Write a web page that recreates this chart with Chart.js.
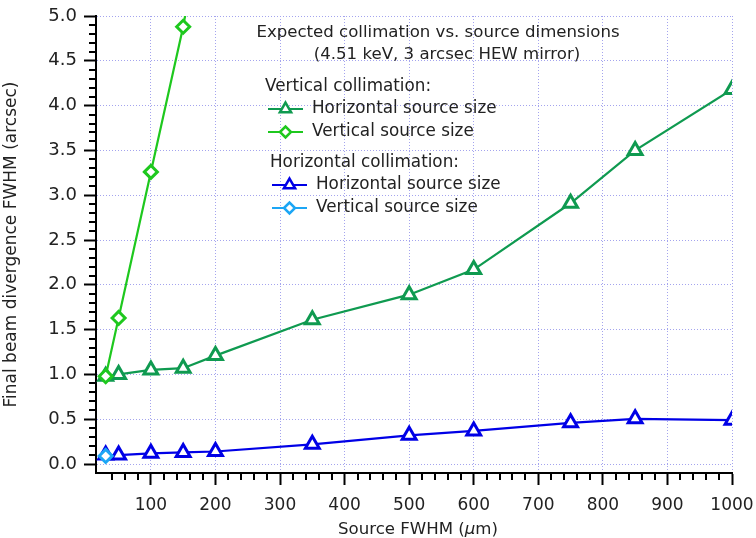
<!DOCTYPE html>
<html>
<head>
<meta charset="utf-8">
<title>Expected collimation vs. source dimensions</title>
<script src="https://cdn.jsdelivr.net/npm/chart.js@4.4.1/dist/chart.umd.min.js"></script>
<style>
  html, body { margin: 0; padding: 0; background: #fff; }
  canvas { display: block; }
</style>
</head>
<body>
<canvas id="divChart" width="756" height="538"></canvas>
<script>
// source FWHM (um) where the divergence was computed
var sourceFwhm = [30, 50, 100, 150, 200, 350, 500, 600, 750, 850, 1000];

// vertical collimation
var vertCollHorizSrc = [0.98, 1.00, 1.05, 1.07, 1.21, 1.61, 1.89, 2.17, 2.91, 3.50, 4.18];
var vertCollVertSrcX = [30, 50, 100, 150, 200];
var vertCollVertSrc = [0.98, 1.63, 3.26, 4.88, 6.9];

// horizontal collimation
var horizCollHorizSrc = [0.10, 0.10, 0.12, 0.13, 0.14, 0.22, 0.32, 0.37, 0.46, 0.505, 0.49];
var horizCollVertSrcX = [30];
var horizCollVertSrc = [0.09];

// labelled ticks
var xMajorTicks = [100, 200, 300, 400, 500, 600, 700, 800, 900, 1000];
var yMajorTicks = [0.0, 0.5, 1.0, 1.5, 2.0, 2.5, 3.0, 3.5, 4.0, 4.5, 5.0];

var FONT = '"DejaVu Sans", Verdana, sans-serif';
var TXT = '#222';
var GRID = '#a4a4ee';

var colors = {
    vcHs: '#0f9a50',
    vcVs: '#1ec81e',
    hcHs: '#0000e6',
    hcVs: '#1ca6f5'
};

function toPoints(xs, ys) {
    var pts = [];
    for (var i = 0; i < ys.length; i++) {
        pts.push({x: xs[i], y: ys[i]});
    }
    return pts;
}

function makeDataSet(label, xs, ys, color, style, order) {
    var tri = style === 'triangle';
    return {
        label: label,
        data: toPoints(xs, ys),
        borderColor: color,
        backgroundColor: '#fff',
        borderWidth: 2.2,
        pointStyle: style,
        pointRadius: tri ? 8 : 6.5,
        pointBorderWidth: 3,
        pointBackgroundColor: '#fff',
        pointBorderColor: color,
        tension: 0,
        order: order
    };
}

// little marker shapes for the legend block
function legendMarker(ctx, style, x, y, r, color) {
    ctx.save();
    ctx.beginPath();
    if (style === 'triangle') {
        ctx.moveTo(x, y - r);
        ctx.lineTo(x + r * Math.sin(Math.PI / 3), y + r / 2);
        ctx.lineTo(x - r * Math.sin(Math.PI / 3), y + r / 2);
    } else {
        ctx.moveTo(x - r, y);
        ctx.lineTo(x, y - r);
        ctx.lineTo(x + r, y);
        ctx.lineTo(x, y + r);
    }
    ctx.closePath();
    ctx.fillStyle = '#fff';
    ctx.fill();
    ctx.lineWidth = 2.5;
    ctx.strokeStyle = color;
    ctx.stroke();
    ctx.restore();
}

function legendRow(ctx, x1, x2, y, style, color, text) {
    ctx.save();
    ctx.strokeStyle = color;
    ctx.lineWidth = 2;
    ctx.beginPath();
    ctx.moveTo(x1, y);
    ctx.lineTo(x2, y);
    ctx.stroke();
    ctx.restore();
    legendMarker(ctx, style, (x1 + x2) / 2, y, style === 'triangle' ? 6.5 : 5.5, color);
    ctx.fillText(text, x2 + 9, y);
}

// minor ticks, notes, legend and x axis title
var decorations = {
    id: 'decorations',
    beforeDatasetsDraw: function(chart) {
        var ctx = chart.ctx;
        var xs = chart.scales.x, ys = chart.scales.y;
        var area = chart.chartArea;
        ctx.save();
        ctx.strokeStyle = '#000';
        ctx.lineWidth = 2;
        ctx.beginPath();
        for (var v = 40; v < 1000; v += 20) {
            if (v % 100 === 0) continue;
            var px = Math.round(xs.getPixelForValue(v));
            ctx.moveTo(px, area.bottom);
            ctx.lineTo(px, area.bottom + 7);
        }
        for (var k = 1; k < 50; k++) {
            if (k % 5 === 0) continue;
            var py = Math.round(ys.getPixelForValue(k / 10));
            ctx.moveTo(area.left, py);
            ctx.lineTo(area.left - 7, py);
        }
        ctx.stroke();
        ctx.restore();
    },
    afterDraw: function(chart) {
        var ctx = chart.ctx;
        ctx.save();
        ctx.fillStyle = TXT;
        ctx.textBaseline = 'middle';

        ctx.font = '16.6px ' + FONT;
        ctx.textAlign = 'center';
        ctx.fillText('Expected collimation vs. source dimensions', 438, 33);
        ctx.fillText('(4.51 keV, 3 arcsec HEW mirror)', 447, 55);

        ctx.font = '16.8px ' + FONT;
        ctx.textAlign = 'left';
        ctx.fillText('Vertical collimation:', 265, 87);
        legendRow(ctx, 268, 303, 109, 'triangle', colors.vcHs, 'Horizontal source size');
        legendRow(ctx, 268, 303, 132, 'rectRot', colors.vcVs, 'Vertical source size');

        ctx.fillText('Horizontal collimation:', 270, 163);
        legendRow(ctx, 272, 307, 185, 'triangle', colors.hcHs, 'Horizontal source size');
        legendRow(ctx, 272, 307, 208, 'rectRot', colors.hcVs, 'Vertical source size');

        // x axis title with an italic mu
        var a = 'Source FWHM (', mu = '\u03bc', b = 'm)';
        var plain = '16.6px ' + FONT, ital = 'italic 16.6px ' + FONT;
        ctx.font = plain;
        var wa = ctx.measureText(a).width, wb = ctx.measureText(b).width;
        ctx.font = ital;
        var wm = ctx.measureText(mu).width;
        var x0 = 418 - (wa + wm + wb) / 2, ty = 530;
        ctx.font = plain;
        ctx.fillText(a, x0, ty);
        ctx.font = ital;
        ctx.fillText(mu, x0 + wa, ty);
        ctx.font = plain;
        ctx.fillText(b, x0 + wa + wm, ty);
        ctx.restore();
    }
};

var chartData = {
    datasets: [
        makeDataSet('Vertical collimation: Horizontal source size', sourceFwhm, vertCollHorizSrc, colors.vcHs, 'triangle', 1),
        makeDataSet('Vertical collimation: Vertical source size', vertCollVertSrcX, vertCollVertSrc, colors.vcVs, 'rectRot', 0),
        makeDataSet('Horizontal collimation: Horizontal source size', sourceFwhm, horizCollHorizSrc, colors.hcHs, 'triangle', 1),
        makeDataSet('Horizontal collimation: Vertical source size', horizCollVertSrcX, horizCollVertSrc, colors.hcVs, 'rectRot', 0)
    ]
};

var chart = new Chart(document.getElementById('divChart'), {
    type: 'line',
    data: chartData,
    plugins: [decorations],
    options: {
        responsive: false,
        animation: false,
        layout: { padding: { top: 16, right: 24, left: 0, bottom: 0 } },
        plugins: {
            legend: { display: false },
            tooltip: { enabled: false }
        },
        scales: {
            x: {
                type: 'linear',
                min: 15,
                max: 1000,
                afterBuildTicks: function(scale) {
                    scale.ticks = xMajorTicks.map(function(v) { return {value: v}; });
                },
                afterFit: function(scale) {
                    scale.height = 65;
                    scale.paddingLeft = 0;
                    scale.paddingRight = 0;
                },
                ticks: {
                    color: TXT,
                    font: { family: FONT, size: 17 },
                    padding: 10,
                    maxRotation: 0,
                    callback: function(v) { return String(v); }
                },
                grid: {
                    color: GRID,
                    lineWidth: 1,
                    tickColor: '#000',
                    tickWidth: 2,
                    tickLength: 12
                },
                border: { color: '#000', width: 2, dash: [1, 2] }
            },
            y: {
                min: -0.1,
                max: 5.0,
                afterBuildTicks: function(scale) {
                    scale.ticks = yMajorTicks.map(function(v) { return {value: v}; });
                },
                afterFit: function(scale) {
                    scale.width = 96;
                    scale.paddingTop = 0;
                    scale.paddingBottom = 0;
                },
                ticks: {
                    color: TXT,
                    font: { family: FONT, size: 18 },
                    padding: 7,
                    callback: function(v) { return v.toFixed(1); }
                },
                grid: {
                    color: GRID,
                    lineWidth: 1,
                    tickColor: '#000',
                    tickWidth: 2,
                    tickLength: 12
                },
                border: { color: '#000', width: 2, dash: [1, 2] },
                title: {
                    display: true,
                    text: 'Final beam divergence FWHM (arcsec)',
                    color: TXT,
                    font: { family: FONT, size: 17, lineHeight: 1.0 },
                    padding: { top: 3, bottom: 0 }
                }
            }
        }
    }
});
</script>
</body>
</html>
